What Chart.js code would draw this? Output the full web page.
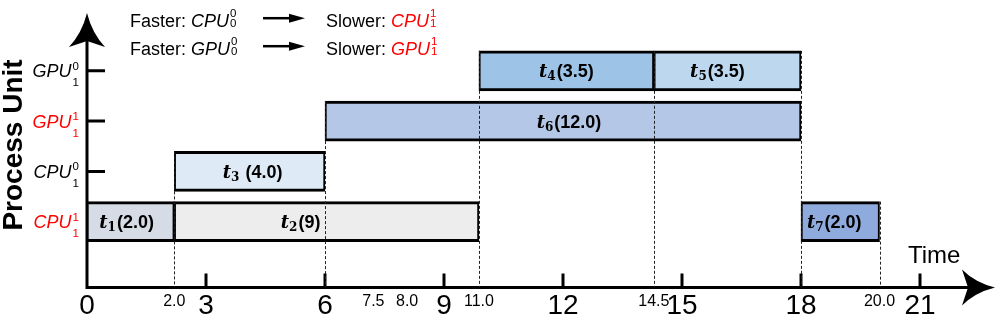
<!DOCTYPE html>
<html>
<head>
<meta charset="utf-8">
<script src="https://cdn.jsdelivr.net/npm/chart.js@4.4.1/dist/chart.umd.min.js"></script>
<style>
    html, body { margin: 0; padding: 0; background: #fff; }
    #grafico-box { width: 997px; height: 320px; }
</style>
</head>
<body>
<div id="grafico-box"><canvas id="grafico" width="997" height="320"></canvas></div>
<script>
// time axis
var timeTicks = [0, 3, 6, 9, 12, 15, 18, 21];
var markTicks = [2.2, 7.22, 8.07, 9.88, 14.29, 19.98];
var markLabels = ['2.0', '7.5', '8.0', '11.0', '14.5', '20.0'];

// process units, bottom to top
var unitNames = ['CPU', 'CPU', 'GPU', 'GPU'];
var unitSup = ['1', '0', '1', '0'];
var unitSub = ['1', '1', '1', '1'];

// tasks
var taskIds = ['1', '2', '3', '4', '5', '6', '7'];
var taskCost = ['(2.0)', '(9)', ' (4.0)', '(3.5)', '(3.5)', '(12.0)', '(2.0)'];
var taskRow = [0, 0, 1, 3, 3, 2, 0];
var taskStart = [0, 2.2, 2.2, 9.88, 14.29, 6, 18];
var taskEnd = [2.2, 9.88, 6, 14.29, 18, 18, 19.98];

// legend at the top
var legendUnits = ['CPU', 'GPU'];
var fastSup = '0', fastSub = '0';
var slowSup = '1', slowSub = '1';

// styles
var taskColors = ['#d6dce5', '#ededed', '#deebf7', '#9dc3e6', '#bdd7ee', '#b4c7e7', '#8faadc'];
var labelNudge = [-4, -26, 3, 0, -10, 6, -6];
var RED = '#ff0000';
var SANS = '"Liberation Sans", Arial, sans-serif';
var SERIF = '"DejaVu Serif", serif';

function unitWidth(ctx, name, sup, sub, size, ssize) {
    ctx.font = 'italic ' + size + 'px ' + SANS;
    var w = ctx.measureText(name).width + 1;
    ctx.font = ssize + 'px ' + SANS;
    return w + Math.max(ctx.measureText(sup).width, ctx.measureText(sub).width);
}

function drawUnit(ctx, x, base, name, sup, sub, color, size, ssize, supDy, subDy) {
    ctx.fillStyle = color;
    ctx.textAlign = 'left';
    ctx.textBaseline = 'alphabetic';
    ctx.font = 'italic ' + size + 'px ' + SANS;
    ctx.fillText(name, x, base);
    var w = ctx.measureText(name).width + 1;
    ctx.font = ssize + 'px ' + SANS;
    ctx.fillText(sup, x + w, base + supDy);
    ctx.fillText(sub, x + w, base + subDy);
}

function arrowUp(ctx, x, tip) {
    ctx.beginPath();
    ctx.moveTo(x, tip);
    ctx.quadraticCurveTo(x + 5, tip + 20, x + 18, tip + 34);
    ctx.lineTo(x, tip + 28);
    ctx.lineTo(x - 18, tip + 34);
    ctx.quadraticCurveTo(x - 5, tip + 20, x, tip);
    ctx.fill();
}

function arrowRight(ctx, tip, y) {
    ctx.beginPath();
    ctx.moveTo(tip, y);
    ctx.quadraticCurveTo(tip - 20, y + 5, tip - 33, y + 18);
    ctx.lineTo(tip - 27, y);
    ctx.lineTo(tip - 33, y - 18);
    ctx.quadraticCurveTo(tip - 20, y - 5, tip, y);
    ctx.fill();
}

function smallArrow(ctx, x1, x2, y) {
    ctx.lineWidth = 2.5;
    ctx.beginPath();
    ctx.moveTo(x1, y);
    ctx.lineTo(x2 - 12, y);
    ctx.stroke();
    ctx.beginPath();
    ctx.moveTo(x2, y);
    ctx.lineTo(x2 - 16, y - 4.5);
    ctx.lineTo(x2 - 16, y + 4.5);
    ctx.closePath();
    ctx.fill();
}

var desenho = {
    id: 'desenho',
    beforeDatasetsDraw: function(chart) {
        var ctx = chart.ctx;
        var xs = chart.scales.x, ys = chart.scales.y;
        var x0 = xs.getPixelForValue(0);
        var y0 = chart.chartArea.bottom + 0.5;
        ctx.save();
        ctx.strokeStyle = '#000';
        ctx.fillStyle = '#000';
        ctx.lineWidth = 3;
        ctx.beginPath();
        ctx.moveTo(x0, 38);
        ctx.lineTo(x0, y0 + 1.5);
        ctx.moveTo(x0 - 1.5, y0);
        ctx.lineTo(970, y0);
        ctx.stroke();

        ctx.beginPath();
        timeTicks.forEach(function(v) {
            if (v > 0) {
                var px = xs.getPixelForValue(v);
                ctx.moveTo(px, y0);
                ctx.lineTo(px, y0 - 14);
            }
        });
        unitNames.forEach(function(n, i) {
            var py = ys.getPixelForValue(i);
            ctx.moveTo(x0, py);
            ctx.lineTo(x0 + 18, py);
        });
        ctx.stroke();

        arrowUp(ctx, x0, 13);
        arrowRight(ctx, 995, y0);
        ctx.restore();
    },
    afterDatasetsDraw: function(chart) {
        var ctx = chart.ctx;
        var xs = chart.scales.x, ys = chart.scales.y;
        var yAxis = chart.chartArea.bottom;
        ctx.save();

        // dashed guide lines from each task edge to the time axis
        var tops = {};
        taskIds.forEach(function(id, i) {
            var top = ys.getPixelForValue(taskRow[i]) - 20;
            [taskStart[i], taskEnd[i]].forEach(function(v) {
                if (v <= 0) return;
                if (tops[v] === undefined || top < tops[v]) tops[v] = top;
            });
        });
        ctx.strokeStyle = '#222';
        ctx.lineWidth = 1;
        ctx.setLineDash([3, 2]);
        Object.keys(tops).forEach(function(k) {
            var px = Math.round(xs.getPixelForValue(+k)) + 0.5;
            ctx.beginPath();
            ctx.moveTo(px, tops[k]);
            ctx.lineTo(px, yAxis);
            ctx.stroke();
        });
        ctx.setLineDash([]);

        // task labels
        ctx.fillStyle = '#000';
        ctx.textAlign = 'left';
        ctx.textBaseline = 'alphabetic';
        taskIds.forEach(function(id, i) {
            var cx = (xs.getPixelForValue(taskStart[i]) + xs.getPixelForValue(taskEnd[i])) / 2 + labelNudge[i];
            var base = ys.getPixelForValue(taskRow[i]) + 6.5;
            ctx.font = 'italic bold 18px ' + SERIF;
            var wt = ctx.measureText('t').width;
            ctx.font = 'bold 12px ' + SERIF;
            var ws = ctx.measureText(id).width;
            ctx.font = 'bold 18px ' + SANS;
            var wc = ctx.measureText(taskCost[i]).width;
            var x = cx - (wt + ws + 1 + wc) / 2;
            ctx.font = 'italic bold 18px ' + SERIF;
            ctx.fillText('t', x, base);
            ctx.font = 'bold 12px ' + SERIF;
            ctx.fillText(id, x + wt, base + 3);
            ctx.font = 'bold 18px ' + SANS;
            ctx.fillText(taskCost[i], x + wt + ws + 1, base);
        });
        ctx.restore();
    },
    afterDraw: function(chart) {
        var ctx = chart.ctx;
        var ys = chart.scales.y;
        ctx.save();

        // unit names on the vertical axis
        unitNames.forEach(function(n, i) {
            var color = unitSup[i] === '1' ? RED : '#000';
            var w = unitWidth(ctx, n, unitSup[i], unitSub[i], 18, 11.5);
            var base = ys.getPixelForValue(i) + 6.5;
            drawUnit(ctx, 79 - w, base, n, unitSup[i], unitSub[i], color, 18, 11.5, -7.5, 9);
        });

        // legend rows
        legendUnits.forEach(function(n, i) {
            var base = 26.5 + i * 28;
            ctx.fillStyle = '#000';
            ctx.font = '18px ' + SANS;
            ctx.textAlign = 'left';
            ctx.textBaseline = 'alphabetic';
            ctx.fillText('Faster: ', 130, base);
            var x = 130 + ctx.measureText('Faster: ').width;
            drawUnit(ctx, x, base, n, fastSup, fastSub, '#000', 18, 11.5, -10, 0.5);
            ctx.fillStyle = '#000';
            ctx.strokeStyle = '#000';
            smallArrow(ctx, 263, 305, base - 8.3);
            ctx.font = '18px ' + SANS;
            ctx.fillText('Slower: ', 326, base);
            x = 326 + ctx.measureText('Slower: ').width;
            drawUnit(ctx, x, base, n, slowSup, slowSub, RED, 18, 11.5, -10, 0.5);
        });

        ctx.fillStyle = '#000';
        ctx.font = '24px ' + SANS;
        ctx.textAlign = 'left';
        ctx.fillText('Time', 908, 263);
        ctx.restore();
    }
};

var ctx = document.getElementById('grafico').getContext('2d');

var datasets = taskIds.map(function(id, i) {
    return {
        label: 't' + id,
        data: [{ x: [taskStart[i], taskEnd[i]], y: taskRow[i] }],
        backgroundColor: taskColors[i],
        borderColor: '#000',
        borderWidth: { top: 3, bottom: 3, left: 2, right: 2 },
        borderSkipped: false,
        barThickness: 40,
        grouped: false
    };
});

var myChart = new Chart(ctx, {
    type: 'bar',
    data: { datasets: datasets },
    options: {
        indexAxis: 'y',
        responsive: false,
        animation: false,
        devicePixelRatio: 1,
        layout: { padding: { top: 3, right: 77, bottom: 0, left: 0 } },
        plugins: {
            legend: { display: false },
            tooltip: { enabled: false }
        },
        scales: {
            x: {
                type: 'linear',
                min: 0,
                max: 21,
                grid: { display: false, drawTicks: false },
                border: { display: false },
                afterBuildTicks: function(scale) {
                    var vals = timeTicks.concat(markTicks).sort(function(a, b) { return a - b; });
                    scale.ticks = vals.map(function(v) { return { value: v }; });
                },
                afterFit: function(scale) { scale.height = 33; },
                ticks: {
                    autoSkip: false,
                    maxRotation: 0,
                    padding: 2,
                    color: '#000',
                    callback: function(value) {
                        var k = markTicks.indexOf(value);
                        return k >= 0 ? markLabels[k] : String(value);
                    },
                    font: function(c) {
                        var small = c.tick && markTicks.indexOf(c.tick.value) >= 0;
                        return small ? { family: SANS, size: 16, lineHeight: 1.61 }
                                     : { family: SANS, size: 28, lineHeight: 1.2 };
                    }
                }
            },
            y: {
                type: 'linear',
                min: -1.3,
                max: 4.35,
                offset: false,
                grid: { display: false, drawTicks: false },
                border: { display: false },
                ticks: { display: false },
                afterFit: function(scale) { scale.width = 87; },
                title: {
                    display: true,
                    text: 'Process Unit',
                    color: '#000',
                    padding: 0,
                    font: { family: SANS, size: 28, weight: 'bold', lineHeight: 1 }
                }
            }
        }
    },
    plugins: [desenho]
});
</script>
</body>
</html>
